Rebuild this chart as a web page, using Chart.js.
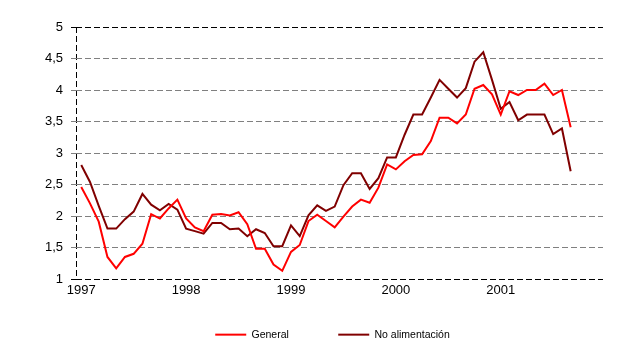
<!DOCTYPE html>
<html>
<head>
<meta charset="utf-8">
<script src="https://cdn.jsdelivr.net/npm/chart.js@4/dist/chart.umd.min.js"></script>
<style>
  html, body { margin: 0; padding: 0; background: #ffffff; }
  #wrap { width: 640px; height: 358px; position: relative; }
</style>
</head>
<body>
<div id="wrap"><canvas id="c" width="640" height="358"></canvas></div>
<script>
// Years shown on the x axis (one tick every 12 monthly observations, starting Jan 1997)
const yearLabels = ['1997', '1998', '1999', '2000', '2001'];

// Monthly series, Jan 1997 .. Sep 2001
const general = [
  2.46, 2.20, 1.91, 1.35, 1.17, 1.35, 1.40, 1.56, 2.03, 1.96, 2.12, 2.26,
  1.96, 1.82, 1.76, 2.02, 2.03, 2.01, 2.06, 1.87, 1.48, 1.48, 1.23, 1.13,
  1.43, 1.54, 1.92, 2.02, 1.92, 1.82, 1.99, 2.15, 2.26, 2.21, 2.45, 2.82,
  2.74, 2.87, 2.97, 2.98, 3.19, 3.56, 3.56, 3.47, 3.61, 4.02, 4.08, 3.93,
  3.61, 3.98, 3.92, 4.00, 4.00, 4.10, 3.92, 4.00, 3.41
];
const noAlimentacion = [
  2.81, 2.54, 2.16, 1.80, 1.80, 1.95, 2.07, 2.35, 2.18, 2.09, 2.19, 2.10,
  1.80, 1.76, 1.72, 1.89, 1.89, 1.79, 1.80, 1.68, 1.79, 1.73, 1.52, 1.52,
  1.85, 1.68, 2.01, 2.17, 2.08, 2.15, 2.49, 2.68, 2.68, 2.43, 2.60, 2.93,
  2.93, 3.29, 3.61, 3.61, 3.88, 4.16, 4.02, 3.88, 4.03, 4.45, 4.60, 4.16,
  3.70, 3.81, 3.52, 3.61, 3.61, 3.61, 3.30, 3.39, 2.71
];
const seriesNames = ['General', 'No alimentación'];

const X_MIN = -0.6, X_MAX = 59.7;
const FONT = "'Liberation Sans', Arial, sans-serif";

const toPoints = arr => arr.map((v, i) => ({ x: i, y: v }));

// shifts the legend box after layout so that it sits where the original legend was
const legendNudge = {
  id: 'legendNudge',
  afterLayout(ch) {
    const lg = ch.legend;
    if (!lg) return;
    const dx = -7, dy = -19;
    lg.left += dx; lg.right += dx;
    lg.top += dy; lg.bottom += dy;
  }
};

const chart = new Chart(document.getElementById('c'), {
  type: 'line',
  data: {
    datasets: [
      {
        label: seriesNames[0],
        data: toPoints(general),
        borderColor: '#ff0000',
        backgroundColor: '#ff0000',
        borderWidth: 2,
        pointRadius: 0,
        tension: 0
      },
      {
        label: seriesNames[1],
        data: toPoints(noAlimentacion),
        borderColor: '#800000',
        backgroundColor: '#800000',
        borderWidth: 2,
        pointRadius: 0,
        tension: 0
      }
    ]
  },
  plugins: [legendNudge],
  options: {
    responsive: false,
    animation: false,
    devicePixelRatio: 1,
    layout: { padding: { left: 20, right: 37, top: 27, bottom: 0 } },
    plugins: {
      tooltip: { enabled: false },
      legend: {
        position: 'bottom',
        fullSize: false,
        maxHeight: 59,
        labels: {
          color: '#000',
          font: { family: FONT, size: 10.5 },
          boxWidth: 31,
          boxHeight: 2,
          padding: 49.4,
          generateLabels: (ch) => Chart.defaults.plugins.legend.labels.generateLabels(ch)
            .map(it => Object.assign(it, { lineWidth: 0 }))
        }
      }
    },
    scales: {
      x: {
        type: 'linear',
        min: X_MIN,
        max: X_MAX,
        afterFit: s => { s.height = 20; },
        afterBuildTicks: s => {
          const t = [{ value: X_MIN }];
          yearLabels.forEach((_, k) => t.push({ value: k * 12 }));
          s.ticks = t;
        },
        ticks: {
          autoSkip: false,
          maxRotation: 0,
          padding: 4,
          color: '#000',
          font: { family: FONT, size: 13 },
          callback: (v) => (v === X_MIN ? '' : yearLabels[Math.round(v / 12)])
        },
        grid: {
          drawTicks: false,
          lineWidth: 1,
          color: (c) => (c.index === 0 ? '#000000' : 'rgba(0,0,0,0)')
        },
        border: { display: false, dash: [6, 3] }
      },
      y: {
        min: 1,
        max: 5,
        afterFit: s => { s.width = 56; },
        ticks: {
          stepSize: 0.5,
          padding: 8,
          color: '#000',
          font: { family: FONT, size: 13 },
          callback: (v) => String(v).replace('.', ',')
        },
        grid: {
          drawTicks: true,
          tickLength: 5,
          lineWidth: 1,
          color: (c) => (c.tick && (c.tick.value === 1 || c.tick.value === 5) ? '#000000' : '#808080')
        },
        border: { display: false, dash: [6, 3] }
      }
    }
  }
});
</script>
</body>
</html>
